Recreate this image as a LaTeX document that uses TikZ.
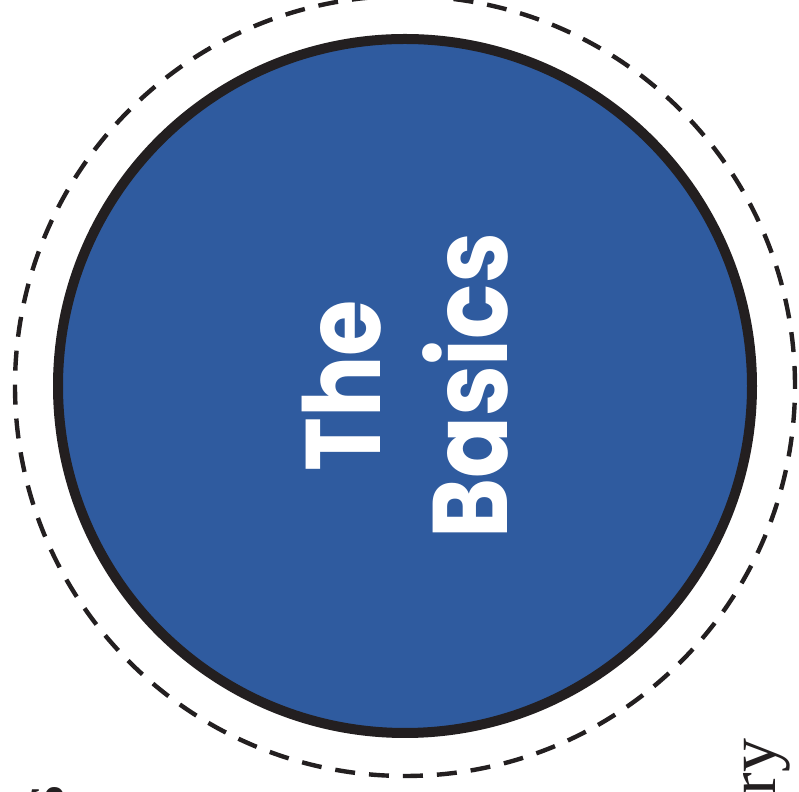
\documentclass[tikz,border=0pt]{standalone}
\usepackage{fontspec}
\newfontfamily\basicsfont{Poppins}[FakeStretch=0.86]
\setmainfont{Liberation Serif}
\usepackage{xcolor}
\definecolor{basicsBlue}{HTML}{2F5B9F}
\definecolor{ringBlack}{HTML}{231F20}
\usepackage{tikz}
\usetikzlibrary{positioning}

\begin{document}
\begin{tikzpicture}[x=0.5pt, y=0.5pt, font=\rmfamily]
        % Frame
        \useasboundingbox (0,0) rectangle (799,792);

        % Main Circle
        \node[circle, minimum size=347pt, inner sep=0pt, fill=basicsBlue, draw=ringBlack, line width=5pt] (basics) at (405,406) {};

        % Dashed Ring
        \draw[dash pattern=on 10pt off 7pt, line width=2.2pt, ringBlack] (basics.center) circle (390);

        % Title
        \node[rotate=90, align=center, text=white, inner sep=0pt, font=\basicsfont\bfseries\fontsize{53}{63.5}\selectfont] (title) at (basics.center) {The\\Basics};

        % Cut Labels
        \node[rotate=90, anchor=base east, inner sep=0pt, font=\fontsize{34}{40}\selectfont, text=ringBlack] (rightLabel) at (775,54) {ry};
        \node[rotate=90, anchor=base east, inner sep=0pt, font=\fontsize{34}{40}\selectfont, text=ringBlack] (leftLabel) at (63,7) {s};
    \end{tikzpicture}
\end{document}
